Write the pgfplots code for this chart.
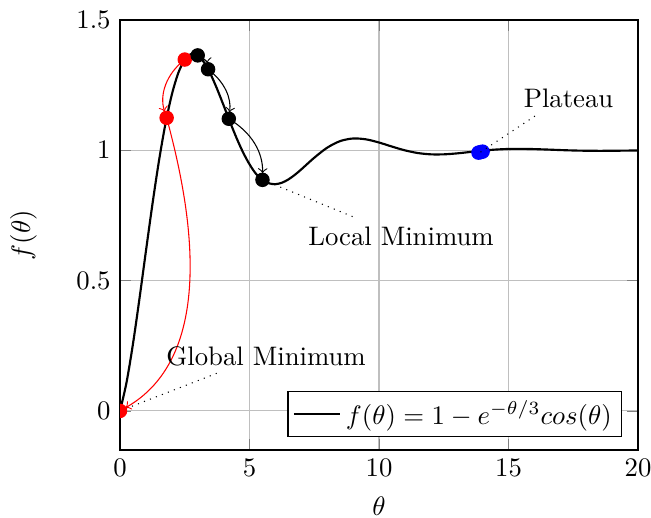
\documentclass[border=0pt]{standalone}
\usepackage{pgfplots}
\pgfplotsset{compat=1.18}
\begin{document}
\begin{tikzpicture}
\begin{axis}[
  scale only axis,
  width=193.7pt, height=160.8pt,
  xmin=0, xmax=20, ymin=-0.15, ymax=1.5,
  xtick={0,5,10,15,20}, ytick={0,0.5,1,1.5},
  grid=major,
  clip marker paths=true,
  xlabel={$\theta$}, ylabel={$f(\theta)$},
  ylabel shift=7.9pt, xlabel shift=4pt,
  xlabel style={inner sep=0pt},
  legend pos=south east,
  legend cell align=left,
  legend style={inner xsep=1.8pt, inner ysep=1.2pt},
]
% dotted annotation leaders (behind)
\draw[dotted] (axis cs:0,0) -- (axis cs:3.78,0.146);
\draw[dotted] (axis cs:5.5,0.887) -- (axis cs:9.07,0.742);
\addplot[thick, black, smooth] coordinates {
(0,0) (0.25,0.10856) (0.5,0.25714) (0.75,0.43015) (1.0,0.61286) (1.25,0.79213)
(1.5,0.95710) (1.75,1.09947) (2.0,1.21366) (2.25,1.29673) (2.5,1.34818)
(2.75,1.36958) (3.0,1.36420) (3.25,1.33648) (3.5,1.29162) (3.75,1.23509)
(4.0,1.17230) (4.25,1.10818) (4.5,1.04704) (4.75,0.99228) (5.0,0.94642)
(5.25,0.90976) (5.5,0.88670) (5.75,0.87333) (6.0,0.87005) (6.25,0.87557)
(6.5,0.88812) (6.75,0.90588) (7.0,0.92689) (7.5,0.97155) (8.0,1.01011)
(8.5,1.03540) (9.0,1.04536) (9.5,1.04202) (10.0,1.02993) (10.5,1.01436)
(11.0,0.99989) (11.5,0.98954) (12.0,0.98454) (12.5,0.98454) (13.0,0.98809)
(13.5,0.99341) (14.0,0.99871) (14.5,1.00282) (15.0,1.00512) (15.5,1.00557)
(16.0,1.00462) (16.5,1.00290) (17.0,1.00095) (17.5,0.99936) (18.0,0.99836)
(18.5,0.99803) (19.0,0.99824) (19.5,0.99881) (20.0,0.99948)
};
\addlegendentry{$f(\theta) = 1 - e^{-\theta/3}cos(\theta)$}
% arrows
\draw[->, red, shorten >=2.5pt] (axis cs:2.5,1.348) to[bend right=35] (axis cs:1.8,1.125);
\draw[->, red, shorten >=2.5pt] (axis cs:1.8,1.125) .. controls +(-75:25.5pt) and +(30:45.3pt) .. (axis cs:0,0);
\draw[->, black, shorten >=2.5pt] (axis cs:3,1.364) to[bend left=30] (axis cs:3.4,1.311);
\draw[->, black, shorten >=2.5pt] (axis cs:3.4,1.311) to[bend left=30] (axis cs:4.2,1.121);
\draw[->, black, shorten >=2.5pt] (axis cs:4.2,1.121) to[bend left=30] (axis cs:5.5,0.887);
% points
\addplot[only marks, mark=*, red, mark size=2.5pt, forget plot] coordinates {(0,0) (1.8,1.1247) (2.5,1.3482)};
\addplot[only marks, mark=*, black, mark size=2.5pt, forget plot] coordinates {(3,1.3642) (3.4,1.311) (4.2,1.121) (5.5,0.8867)};
\addplot[only marks, mark=*, blue, mark size=2.5pt, forget plot] coordinates {(13.84,0.991) (13.92,0.993) (14.0,0.995)};
\draw[dotted] (axis cs:13.92,0.993) -- (axis cs:16.18,1.142);
% labels
\node at (axis cs:5.64,0.21) {Global Minimum};
\node at (axis cs:10.85,0.669) {Local Minimum};
\node at (axis cs:17.32,1.2) {Plateau};
\end{axis}
\pgfresetboundingbox
\path ([shift={(-44.88pt,-25.06pt)}]current axis.south west) rectangle ([shift={(4.86pt,7.48pt)}]current axis.north east);
\end{tikzpicture}
\end{document}
